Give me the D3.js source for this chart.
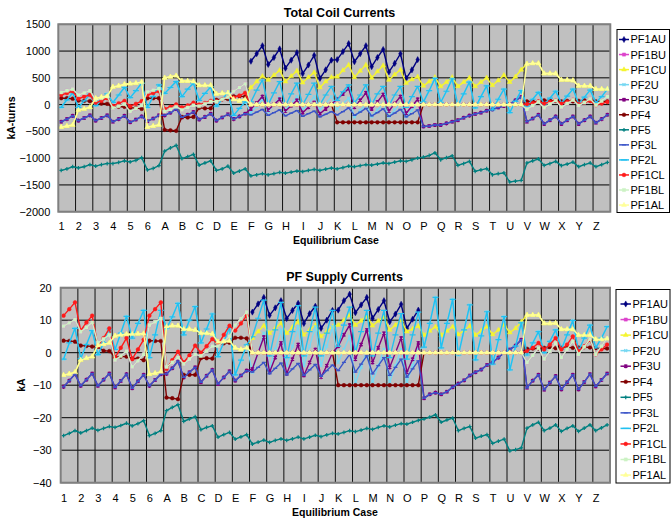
<!DOCTYPE html>
<html><head><meta charset="utf-8">
<script src="https://cdn.jsdelivr.net/npm/d3@7"></script>
<style>body{margin:0;background:#fff}svg{display:block}</style>
</head><body><svg id="c" width="671" height="523"></svg>
<script>
// ---------- DATA ----------
const categories = ["1","2","3","4","5","6","A","B","C","D","E","F","G","H","I","J","K","L","M","N","O","P","Q","R","S","T","U","V","W","X","Y","Z"];
const caseSuffixes = ["a","b","c"]; // three equilibrium cases per category
const seriesNames = ["PF1AU","PF1BU","PF1CU","PF2U","PF3U","PF4","PF5","PF3L","PF2L","PF1CL","PF1BL","PF1AL"];
const topTicks = [-2000,-1500,-1000,-500,0,500,1000,1500];
const bottomTicks = [-40,-30,-20,-10,0,10,20];

// Total Coil Currents (kA-turns), 1..E | F..J | K..O | P..U | V..Z
const tc_PF1AU = [null,null,null, null,null,null, null,null,null, null,null,null, null,null,null, null,null,null, null,null,null, null,null,null, null,null,null, null,null,null, null,null,null,
 810,950,1100, 750,880,1040, 680,830,970, 580,740,920, 490,650,830,
 840,990,1140, 800,950,1100, 710,880,1030, 610,770,950, 490,650,840,
 null,null,null, null,null,null, null,null,null, null,null,null, null,null,null, null,null,null,
 null,null,null, null,null,null, null,null,null, null,null,null, null,null,null];
const tc_PF1BU = [230,260,290, 180,220,260, 85,120,155, -65,-30,10, -130,-70,-15, 240,270,300, -130,-90,-40, -100,-55,-15, -30,15,55, 55,100,140, 250,320,390,
 0,0,0, 0,0,0, 0,0,0, 0,0,0, 0,0,0,
 0,0,0, 0,0,0, 0,0,0, 0,0,0, 0,0,0,
 0,0,0, 0,0,0, 0,0,0, 0,0,0, 0,0,0, 0,0,0,
 -90,-20,50, -60,10,80, -50,20,90, -20,40,110, -10,70,150];
const tc_PF1CU = [-420,-400,-380, -100,-80,-50, 120,140,160, 330,350,380, 390,400,420, -420,-400,-380, 500,520,540, 440,440,430, 360,360,360, 200,210,220, 100,70,100,
 320,430,530, 460,550,640, 430,530,630, 410,510,600, 320,430,510,
 520,640,740, 510,630,740, 500,620,730, 460,560,650, 400,470,520,
 350,430,510, 340,420,510, 340,420,500, 340,420,500, 360,450,550, 420,520,650,
 760,770,770, 580,580,580, 460,460,450, 350,350,350, 290,290,290];
const tc_PF2U = [-50,90,220, -50,70,190, -20,80,200, 40,180,320, 130,260,400, -50,150,370, 210,320,430, 150,290,400, 80,210,330, -30,100,220, -200,-70,50,
 -150,-30,100, -130,0,130, -100,20,150, -100,20,150, -100,20,150,
 -80,20,120, -230,-110,10, -220,-100,20, -220,-100,20, -220,-100,20,
 50,260,490, 40,250,480, -20,200,420, -60,150,350, -100,100,290, -150,60,260,
 -30,100,230, 10,120,250, 30,160,290, 20,140,270, 40,150,290];
const tc_PF3U = [-320,-270,-210, -300,-250,-200, -300,-250,-200, -320,-270,-210, -330,-280,-220, -310,-260,-200, -200,-150,-80, -240,-190,-140, -280,-230,-170, -300,-240,-180, -270,-220,-170,
 -80,30,150, -100,0,100, -120,-20,80, -150,-50,40, -170,-80,10,
 100,200,300, -50,80,220, -80,50,190, -120,20,150, -160,-30,100,
 -410,-400,-380, -380,-350,-320, -290,-245,-205, -175,-150,-115, -90,-55,-25, 10,80,140,
 -320,-260,-190, -360,-290,-220, -360,-290,-220, -360,-290,-220, -340,-270,-190];
const tc_PF4 = [120,120,110, 75,70,65, 60,20,15, -50,-40,-40, -60,-60,-80, 120,120,120, -470,-480,-490, -230,-240,-230, -60,-70,-70, 90,100,105, 155,155,150,
 0,0,0, 0,0,0, 0,0,0, 0,0,0, 0,0,0,
 -330,-330,-330, -330,-330,-330, -330,-330,-330, -330,-330,-330, -330,-330,-330,
 0,0,0, 0,0,0, 0,0,0, 0,0,0, 0,0,0, 0,0,0,
 60,60,50, 80,80,70, 60,70,60, 70,80,70, 60,60,60];
const tc_PF5 = [-1230,-1200,-1160, -1180,-1160,-1120, -1150,-1120,-1100, -1100,-1080,-1050, -1070,-1040,-990, -1220,-1190,-1140, -870,-810,-760, -1010,-970,-930, -1130,-1090,-1050, -1230,-1200,-1150, -1280,-1240,-1200,
 -1330,-1310,-1290, -1310,-1290,-1265, -1280,-1260,-1240, -1250,-1230,-1210, -1230,-1205,-1185,
 -1200,-1175,-1150, -1160,-1140,-1120, -1130,-1110,-1090, -1100,-1075,-1050, -1060,-1030,-1000,
 -980,-950,-900, -1030,-990,-955, -1135,-1100,-1060, -1245,-1220,-1195, -1310,-1290,-1275, -1445,-1430,-1415,
 -1090,-1050,-1015, -1135,-1100,-1060, -1140,-1110,-1075, -1160,-1120,-1090, -1160,-1120,-1080];
const tc_PF3L = [-320,-270,-210, -300,-250,-200, -300,-250,-200, -320,-270,-210, -330,-280,-220, -310,-260,-200, -200,-150,-80, -240,-190,-140, -280,-230,-170, -300,-240,-180, -270,-220,-170,
 -190,-140,-90, -200,-150,-100, -210,-160,-110, -220,-170,-120, -230,-180,-130,
 -190,-130,-60, -200,-140,-70, -210,-150,-80, -220,-160,-90, -230,-170,-100,
 -410,-400,-380, -380,-350,-320, -290,-245,-205, -175,-150,-115, -90,-55,-25, 10,80,140,
 -320,-260,-190, -360,-290,-220, -360,-290,-220, -360,-290,-220, -340,-270,-190];
const tc_PF2L = [-50,90,220, -50,70,190, -20,80,200, 40,180,320, 130,260,400, -50,150,370, 210,320,430, 150,290,400, 80,210,330, -30,100,220, -200,-70,50,
 50,270,460, 0,220,430, -20,200,400, 0,190,400, 0,180,340,
 80,240,370, 30,180,370, 0,200,340, -20,180,340, -50,150,340,
 50,260,490, 40,250,480, -20,200,420, -60,150,350, -100,100,290, -150,60,260,
 -30,100,230, 10,120,250, 30,160,290, 20,140,270, 40,150,290];
const tc_PF1CL = [180,215,250, 110,150,180, 35,70,120, -25,25,70, -30,15,65, 180,215,250, -80,-40,5, -50,-15,35, 0,30,70, 60,100,140, 130,170,220,
 0,0,0, 0,0,0, 0,0,0, 0,0,0, 0,0,0,
 0,0,0, 0,0,0, 0,0,0, 0,0,0, 0,0,0,
 0,0,0, 0,0,0, 0,0,0, 0,0,0, 0,0,0, 0,0,0,
 10,30,60, 20,50,80, 20,50,90, 10,40,70, -10,20,50];
const tc_PF1BL = [230,260,290, 180,220,260, 85,120,155, -65,-30,10, -130,-70,-15, 240,270,300, -130,-90,-40, -100,-55,-15, -30,15,55, 55,100,140, 250,320,390,
 0,0,0, 0,0,0, 0,0,0, 0,0,0, 0,0,0,
 0,0,0, 0,0,0, 0,0,0, 0,0,0, 0,0,0,
 0,0,0, 0,0,0, 0,0,0, 0,0,0, 0,0,0, 0,0,0,
 -90,-20,50, -60,10,80, -50,20,90, -20,40,110, -10,70,150];
const tc_PF1AL = [-420,-400,-380, -100,-80,-50, 120,140,160, 330,350,380, 390,400,420, -420,-400,-380, 500,520,540, 440,440,430, 360,360,360, 200,210,220, 100,70,100,
 0,0,0, 0,0,0, 0,0,0, 0,0,0, 0,0,0,
 0,0,0, 0,0,0, 0,0,0, 0,0,0, 0,0,0,
 0,0,0, 0,0,0, 0,0,0, 0,0,0, 0,0,0, 0,0,0,
 760,770,770, 580,580,580, 460,460,450, 350,350,350, 290,290,290];

// PF Supply Currents (kA)
const ps_PF1AU = [null,null,null, null,null,null, null,null,null, null,null,null, null,null,null, null,null,null, null,null,null, null,null,null, null,null,null, null,null,null, null,null,null,
 12.5,15,17, 11.5,13.8,16, 10.5,13,15.2, 9,12,14.3, 7.5,10,13,
 13.1,16,18, 12.3,14.7,17, 10.6,13.3,16, 9.5,11.9,14.9, 7.5,10.3,13.1,
 null,null,null, null,null,null, null,null,null, null,null,null, null,null,null, null,null,null,
 null,null,null, null,null,null, null,null,null, null,null,null, null,null,null];
const ps_PF1BU = [8.2,9.2,10.2, 6.4,7.8,9.3, 3.0,4.2,5.5, -2.3,-1.0,0.5, -4.4,-2.5,-0.5, 8.5,9.5,10.5, -4.4,-3.0,-1.5, -3.5,-2.0,-0.5, -1.0,0.5,2.0, 2.0,3.5,5.0, 8.5,10.5,12.6,
 0,0,0, 0,0,0, 0,0,0, 0,0,0, 0,0,0,
 0,0,0, 0,0,0, 0,0,0, 0,0,0, 0,0,0,
 0,0,0, 0,0,0, 0,0,0, 0,0,0, 0,0,0, 0,0,0,
 -3.0,-0.8,1.5, -2.0,0.5,3.0, -1.5,1.0,3.5, -0.5,1.8,4.3, -0.5,2.0,4.5];
const ps_PF1CU = [-6.9,-6.5,-6.0, -2.2,-1.7,-1.2, 2.2,2.6,3.0, 5.2,5.5,5.7, 5.7,5.8,5.9, -6.6,-6.3,-5.9, 8.0,8.3,8.3, 7.2,7.2,7.0, 6.0,6.0,5.8, 3.3,3.4,3.6, 1.5,1.0,1.5,
 4.5,6.5,8.3, 6.0,7.5,9.0, 6.0,7.8,9.5, 5.5,7.0,8.5, 5.0,6.5,8.0,
 8.5,10.0,11.5, 8.5,9.8,11.3, 8.3,9.8,11.0, 7.0,8.5,10.0, 6.5,7.3,8.2,
 5.4,6.7,8.0, 5.4,6.7,8.0, 5.6,6.8,8.2, 5.4,6.7,8.0, 5.6,7.0,8.5, 6.2,7.5,9.5,
 11.6,11.6,11.6, 9.0,9.0,9.1, 7.2,7.2,7.2, 5.4,5.4,5.4, 4.1,4.1,4.3];
const ps_PF2U = [-2.0,3.0,7.5, -1.8,2.5,6.8, -0.6,3.0,7.3, 1.0,6.0,11.2, 4.5,9.0,13.0, -1.5,5.5,13.0, 7.5,11.0,15.2, 5.5,10.0,14.2, 3.0,7.3,11.9, -1.2,3.3,7.8, -6.8,-2.3,2.4,
 -6,0,6, -5,1,7, -4,2,8, -4,2,8, -4,2,8,
 -3,1,5, -9.5,-4.5,0.5, -9,-4,1, -9,-4,1, -9,-4,1,
 1.7,9.0,17.0, 1.5,9.0,16.4, -0.7,7.0,14.7, -2.2,5.2,12.6, -3.5,4.0,11.1, -5.3,2.0,9.2,
 -0.7,3.0,6.5, 0.0,3.5,7.0, 1.0,5.5,9.9, 0.5,4.5,8.5, 1.5,4.5,8.0];
const ps_PF3U = [-10.5,-8.6,-6.6, -10.2,-8.3,-6.4, -10.2,-8.3,-6.4, -10.7,-8.7,-6.6, -10.9,-8.8,-6.8, -10.2,-8.4,-6.6, -6.5,-4.8,-2.6, -7.6,-6.0,-4.5, -9.1,-7.1,-5.3, -9.6,-7.6,-5.7, -8.6,-7.0,-5.5,
 -5.0,0.0,4.8, -6.0,-1.5,3.0, -6.5,-2.0,2.5, -7.0,-3.0,1.0, -7.5,-4.0,0.0,
 2.0,5.5,8.5, -2.0,2.5,7.0, -3.0,1.5,6.0, -4.5,0.0,4.5, -6.0,-2.0,3.0,
 -14.0,-12.8,-12.3, -12.8,-12.0,-10.6, -9.5,-8.5,-7.0, -6.0,-5.2,-3.8, -3.0,-1.5,0.0, 1.0,2.2,4.0,
 -10.8,-8.6,-6.8, -11.4,-9.2,-7.2, -11.3,-9.1,-6.8, -11.3,-9.0,-6.6, -10.4,-8.4,-6.4];
const ps_PF4 = [3.7,3.6,3.4, 2.2,2.1,1.9, 1.8,0.6,0.5, -1.4,-1.2,-1.2, -1.8,-1.8,-2.3, 3.7,3.6,3.6, -13.8,-14.0,-14.3, -6.8,-6.8,-6.8, -1.7,-1.7,-1.8, 2.6,2.9,3.1, 4.6,4.6,4.4,
 0,0,0, 0,0,0, 0,0,0, 0,0,0, 0,0,0,
 -10,-10,-10, -10,-10,-10, -10,-10,-10, -10,-10,-10, -10,-10,-10,
 0,0,0, 0,0,0, 0,0,0, 0,0,0, 0,0,0, 0,0,0,
 1.2,1.3,1.3, 1.5,1.6,1.4, 1.5,1.7,1.5, 1.6,1.7,1.6, 1.4,1.3,1.3];
const ps_PF5 = [-25.5,-24.8,-24.0, -24.7,-24.0,-23.2, -23.9,-23.3,-22.7, -23.0,-22.4,-21.7, -22.5,-21.8,-20.9, -25.5,-24.8,-24.0, -17.8,-16.8,-16.0, -21.1,-20.4,-19.7, -23.7,-23.0,-22.5, -26.0,-25.2,-24.5, -26.6,-25.9,-25.2,
 -28.1,-27.5,-26.9, -27.6,-27.0,-26.5, -27.0,-26.5,-26.0, -26.5,-26.0,-25.4, -25.8,-25.3,-24.8,
 -25.0,-24.5,-24.0, -24.3,-23.8,-23.3, -23.6,-23.0,-22.5, -22.8,-22.3,-21.8, -22.0,-21.4,-20.8,
 -20.4,-19.8,-19.1, -21.4,-20.7,-20.1, -24.0,-23.3,-22.7, -26.3,-25.7,-25.2, -27.9,-27.2,-26.6, -30.2,-29.8,-29.3,
 -23.2,-22.2,-21.4, -24.0,-23.2,-22.2, -24.2,-23.3,-22.5, -24.2,-23.2,-22.2, -24.0,-23.1,-22.2];
const ps_PF3L = [-10.5,-8.6,-6.6, -10.2,-8.3,-6.4, -10.2,-8.3,-6.4, -10.7,-8.7,-6.6, -10.9,-8.8,-6.8, -10.2,-8.4,-6.6, -6.5,-4.8,-2.6, -7.6,-6.0,-4.5, -9.1,-7.1,-5.3, -9.6,-7.6,-5.7, -8.6,-7.0,-5.5,
 -6.0,-4.5,-3.0, -6.5,-4.8,-3.2, -6.8,-5.0,-3.3, -7.0,-5.3,-3.6, -7.3,-5.5,-3.8,
 -5.5,-3.0,-0.5, -6.0,-3.5,-1.0, -6.5,-4.0,-1.5, -7.0,-4.5,-2.0, -7.5,-5.0,-2.5,
 -14.0,-12.8,-12.3, -12.8,-12.0,-10.6, -9.5,-8.5,-7.0, -6.0,-5.2,-3.8, -3.0,-1.5,0.0, 1.0,2.2,4.0,
 -10.8,-8.6,-6.8, -11.4,-9.2,-7.2, -11.3,-9.1,-6.8, -11.3,-9.0,-6.6, -10.4,-8.4,-6.4];
const ps_PF2L = [-2.0,3.0,7.5, -1.8,2.5,6.8, -0.6,3.0,7.3, 1.0,6.0,11.2, 4.5,9.0,13.0, -1.5,5.5,13.0, 7.5,11.0,15.2, 5.5,10.0,14.2, 3.0,7.3,11.9, -1.2,3.3,7.8, -6.8,-2.3,2.4,
 4.9,10.6,16.2, -1.0,7.0,15.5, -1.5,6.5,14.5, -1.0,6.5,14.0, -1.0,6.0,13.0,
 2.0,8.5,14.0, 0.0,6.5,13.0, -1.0,6.0,13.0, -1.5,5.5,12.0, -2.0,5.5,12.5,
 1.7,9.0,17.0, 1.5,9.0,16.4, -0.7,7.0,14.7, -2.2,5.2,12.6, -3.5,4.0,11.1, -5.3,2.0,9.2,
 -0.7,3.0,6.5, 0.0,3.5,7.0, 1.0,5.5,9.9, 0.5,4.5,8.5, 1.5,4.5,8.0];
const ps_PF1CL = [11.4,13.4,15.5, 6.8,9.3,11.4, 2.2,4.5,7.5, -1.5,1.5,4.5, -2.0,1.0,4.0, 11.4,13.4,15.5, -5.0,-2.3,0.3, -3.0,-0.8,2.2, 0.0,2.0,4.2, 2.5,5.5,8.3, 6.8,9.0,11.4,
 0,0,0, 0,0,0, 0,0,0, 0,0,0, 0,0,0,
 0,0,0, 0,0,0, 0,0,0, 0,0,0, 0,0,0,
 0,0,0, 0,0,0, 0,0,0, 0,0,0, 0,0,0, 0,0,0,
 0.5,1.5,3.0, 1.0,2.5,4.5, 1.0,2.5,5.0, 0.5,2.0,4.0, -0.5,1.0,2.5];
const ps_PF1BL = [8.2,9.2,10.2, 6.4,7.8,9.3, 3.0,4.2,5.5, -2.3,-1.0,0.5, -4.4,-2.5,-0.5, 8.5,9.5,10.5, -4.4,-3.0,-1.5, -3.5,-2.0,-0.5, -1.0,0.5,2.0, 2.0,3.5,5.0, 8.5,10.5,12.6,
 0,0,0, 0,0,0, 0,0,0, 0,0,0, 0,0,0,
 0,0,0, 0,0,0, 0,0,0, 0,0,0, 0,0,0,
 0,0,0, 0,0,0, 0,0,0, 0,0,0, 0,0,0, 0,0,0,
 -3.0,-0.8,1.5, -2.0,0.5,3.0, -1.5,1.0,3.5, -0.5,1.8,4.3, -0.5,2.0,4.5];
const ps_PF1AL = [-6.9,-6.5,-6.0, -2.2,-1.7,-1.2, 2.2,2.6,3.0, 5.2,5.5,5.7, 5.7,5.8,5.9, -6.6,-6.3,-5.9, 8.0,8.3,8.3, 7.2,7.2,7.0, 6.0,6.0,5.8, 3.3,3.4,3.6, 1.5,1.0,1.5,
 0,0,0, 0,0,0, 0,0,0, 0,0,0, 0,0,0,
 0,0,0, 0,0,0, 0,0,0, 0,0,0, 0,0,0,
 0,0,0, 0,0,0, 0,0,0, 0,0,0, 0,0,0, 0,0,0,
 11.6,11.6,11.6, 9.0,9.0,9.1, 7.2,7.2,7.2, 5.4,5.4,5.4, 4.1,4.1,4.3];

// ---------- STYLE ----------
const FONT = "'Liberation Sans', Arial, sans-serif";
const styles = {
  PF1AU:{color:"#000080", marker:"diamond"},
  PF1BU:{color:"#dd44cc", marker:"square"},
  PF1CU:{color:"#f5f530", marker:"triangle"},
  PF2U:{color:"#77d8f2", marker:"x"},
  PF3U:{color:"#800080", marker:"star"},
  PF4:{color:"#800000", marker:"circle"},
  PF5:{color:"#008080", marker:"plus"},
  PF3L:{color:"#3b54c8", marker:"dashS"},
  PF2L:{color:"#22c0f0", marker:"dashL"},
  PF1CL:{color:"#ff1a1a", marker:"circle"},
  PF1BL:{color:"#ccf2c4", marker:"square"},
  PF1AL:{color:"#ffff99", marker:"triangle"}
};
const symX = {draw(ctx,size){const r=Math.sqrt(size)/2;ctx.moveTo(-r,-r);ctx.lineTo(r,r);ctx.moveTo(r,-r);ctx.lineTo(-r,r);}};
const symStar = {draw(ctx,size){const r=Math.sqrt(size)/2;ctx.moveTo(-r,-r);ctx.lineTo(r,r);ctx.moveTo(r,-r);ctx.lineTo(-r,r);ctx.moveTo(0,-r*1.3);ctx.lineTo(0,r*1.3);}};
const symPlus = {draw(ctx,size){const r=Math.sqrt(size)/2;ctx.moveTo(-r,0);ctx.lineTo(r,0);ctx.moveTo(0,-r);ctx.lineTo(0,r);}};
const symDash = w => ({draw(ctx){ctx.moveTo(-w/2,0);ctx.lineTo(w/2,0);}});
const markerDefs = {
  diamond:{type:d3.symbolDiamond,size:11,filled:true},
  square:{type:d3.symbolSquare,size:10,filled:true},
  triangle:{type:d3.symbolTriangle,size:10,filled:true},
  circle:{type:d3.symbolCircle,size:11,filled:true},
  x:{type:symX,size:9,filled:false},
  star:{type:symStar,size:10,filled:false},
  plus:{type:symPlus,size:14,filled:false},
  dashS:{type:symDash(4),size:1,filled:false},
  dashL:{type:symDash(6),size:1,filled:false}
};

const svg = d3.select("#c");
const caseIds = categories.flatMap(c => caseSuffixes.map(s => c + s));

function drawChart(cfg){
  const {L,R,T,B} = cfg.plot;
  const x = d3.scalePoint().domain(caseIds).range([L,R]).padding(0.5);
  const xc = d3.scaleBand().domain(categories).range([L,R]);
  const y = d3.scaleLinear().domain(d3.extent(cfg.ticks)).range([B,T]);
  const g = svg.append("g");
  g.append("rect").attr("x",L).attr("y",T).attr("width",R-L).attr("height",B-T).attr("fill","#c0c0c0");
  g.append("g").selectAll("line").data(cfg.ticks).join("line")
    .attr("x1",L).attr("x2",R).attr("y1",d=>y(d)).attr("y2",d=>y(d))
    .attr("stroke","#000").attr("stroke-width",1);
  g.append("g").selectAll("line").data(categories.slice(1)).join("line")
    .attr("x1",d=>xc(d)).attr("x2",d=>xc(d)).attr("y1",T).attr("y2",B)
    .attr("stroke","#111").attr("stroke-width",1);
  const clipId = "clip"+cfg.id;
  svg.append("clipPath").attr("id",clipId).append("rect")
    .attr("x",L).attr("y",T-3).attr("width",R-L).attr("height",B-T+6);
  const sg = g.append("g").attr("clip-path",`url(#${clipId})`);
  const line = d3.line().defined(d=>d!==null).x((d,i)=>x(caseIds[i])).y(d=>y(d));
  seriesNames.forEach(name=>{
    const vals = cfg.data[name];
    if(vals.length!==caseIds.length){
      svg.append("text").attr("x",10).attr("y",20+seriesNames.indexOf(name)*12).attr("fill","red")
        .attr("font-size",10).text(cfg.id+" "+name+" len "+vals.length);
    }
    const st = styles[name], md = markerDefs[st.marker];
    sg.append("path").attr("d",line(vals)).attr("fill","none").attr("stroke",st.color)
      .attr("stroke-width",1.4).attr("stroke-linejoin","round");
    const sym = d3.symbol().type(md.type).size(md.size);
    const pts = vals.map((v,i)=>({v,id:caseIds[i]})).filter(p=>p.v!==null);
    sg.append("g").selectAll("path").data(pts).join("path")
      .attr("transform",p=>`translate(${x(p.id)},${y(p.v)})`)
      .attr("d",sym)
      .attr("fill",md.filled?st.color:"none").attr("stroke",st.color)
      .attr("stroke-width",md.filled?0.5:1.2);
  });
  g.append("rect").attr("x",L).attr("y",T).attr("width",R-L).attr("height",B-T)
    .attr("fill","none").attr("stroke","#808080").attr("stroke-width",2);

  const ya = g.append("g").attr("transform",`translate(${L},0)`)
    .call(d3.axisLeft(y).tickValues(cfg.ticks).tickFormat(d3.format("d")).tickSize(0).tickPadding(cfg.yPad));
  ya.select(".domain").remove();
  ya.selectAll("text").attr("font-size",11).attr("font-family",FONT).attr("fill","#000");

  const firstIds = categories.map(c=>c+caseSuffixes[0]);
  const xa = g.append("g").attr("transform",`translate(0,${B})`)
    .call(d3.axisBottom(x).tickValues(firstIds).tickFormat(id=>id.slice(0,-1)).tickSize(0).tickPadding(cfg.xPad));
  xa.select(".domain").remove();
  xa.selectAll("text").attr("font-size",11).attr("font-family",FONT).attr("fill","#000");

  g.append("text").attr("x",cfg.title.x).attr("y",cfg.title.y).attr("text-anchor","middle")
    .attr("font-family",FONT).attr("font-weight","bold").attr("font-size",12.5).text(cfg.title.text);
  g.append("text").attr("transform",`translate(${cfg.yLabel.x},${cfg.yLabel.y}) rotate(-90)`)
    .attr("text-anchor","middle").attr("font-family",FONT).attr("font-weight","bold")
    .attr("font-size",10.5).text(cfg.yLabel.text);
  g.append("text").attr("x",cfg.xTitle.x).attr("y",cfg.xTitle.y).attr("text-anchor","middle")
    .attr("font-family",FONT).attr("font-weight","bold").attr("font-size",10.5).text("Equilibrium Case");

  const lg = g.append("g"), lc = cfg.legend;
  lg.append("rect").attr("x",lc.x).attr("y",lc.y).attr("width",lc.w).attr("height",lc.h)
    .attr("fill","#fff").attr("stroke","#000").attr("stroke-width",1);
  seriesNames.forEach((name,i)=>{
    const yy = lc.y0 + i*lc.step, st = styles[name], md = markerDefs[st.marker];
    lg.append("line").attr("x1",lc.lx1).attr("x2",lc.lx2).attr("y1",yy).attr("y2",yy)
      .attr("stroke",st.color).attr("stroke-width",1.5);
    lg.append("path").attr("transform",`translate(${(lc.lx1+lc.lx2)/2},${yy})`)
      .attr("d",d3.symbol().type(md.type).size(md.size)())
      .attr("fill",md.filled?st.color:"none").attr("stroke",st.color).attr("stroke-width",md.filled?0.5:1.2);
    lg.append("text").attr("x",lc.tx).attr("y",yy).attr("dy","0.36em")
      .attr("font-family",FONT).attr("font-size",11).attr("fill","#000").text(name);
  });
}

drawChart({
  id:"top", plot:{L:58.3,R:610.3,T:24.3,B:211.7}, ticks:topTicks, yPad:8, xPad:10.5,
  title:{text:"Total Coil Currents",x:339.5,y:16.5},
  yLabel:{text:"kA-turns",x:15,y:118}, xTitle:{x:336,y:243.5},
  legend:{x:617,y:29.5,w:52.5,h:183,y0:39.5,step:15.05,lx1:619,lx2:629,tx:630.5},
  data:{PF1AU:tc_PF1AU,PF1BU:tc_PF1BU,PF1CU:tc_PF1CU,PF2U:tc_PF2U,PF3U:tc_PF3U,PF4:tc_PF4,
        PF5:tc_PF5,PF3L:tc_PF3L,PF2L:tc_PF2L,PF1CL:tc_PF1CL,PF1BL:tc_PF1BL,PF1AL:tc_PF1AL}
});
drawChart({
  id:"bot", plot:{L:60.7,R:610,T:287.7,B:482.7}, ticks:bottomTicks, yPad:9, xPad:12,
  title:{text:"PF Supply Currents",x:344.5,y:280.5},
  yLabel:{text:"kA",x:25,y:385}, xTitle:{x:335,y:516},
  legend:{x:616,y:289.5,w:54,h:193.5,y0:304,step:15.55,lx1:620.5,lx2:631,tx:632.5},
  data:{PF1AU:ps_PF1AU,PF1BU:ps_PF1BU,PF1CU:ps_PF1CU,PF2U:ps_PF2U,PF3U:ps_PF3U,PF4:ps_PF4,
        PF5:ps_PF5,PF3L:ps_PF3L,PF2L:ps_PF2L,PF1CL:ps_PF1CL,PF1BL:ps_PF1BL,PF1AL:ps_PF1AL}
});
</script>
</body></html>
